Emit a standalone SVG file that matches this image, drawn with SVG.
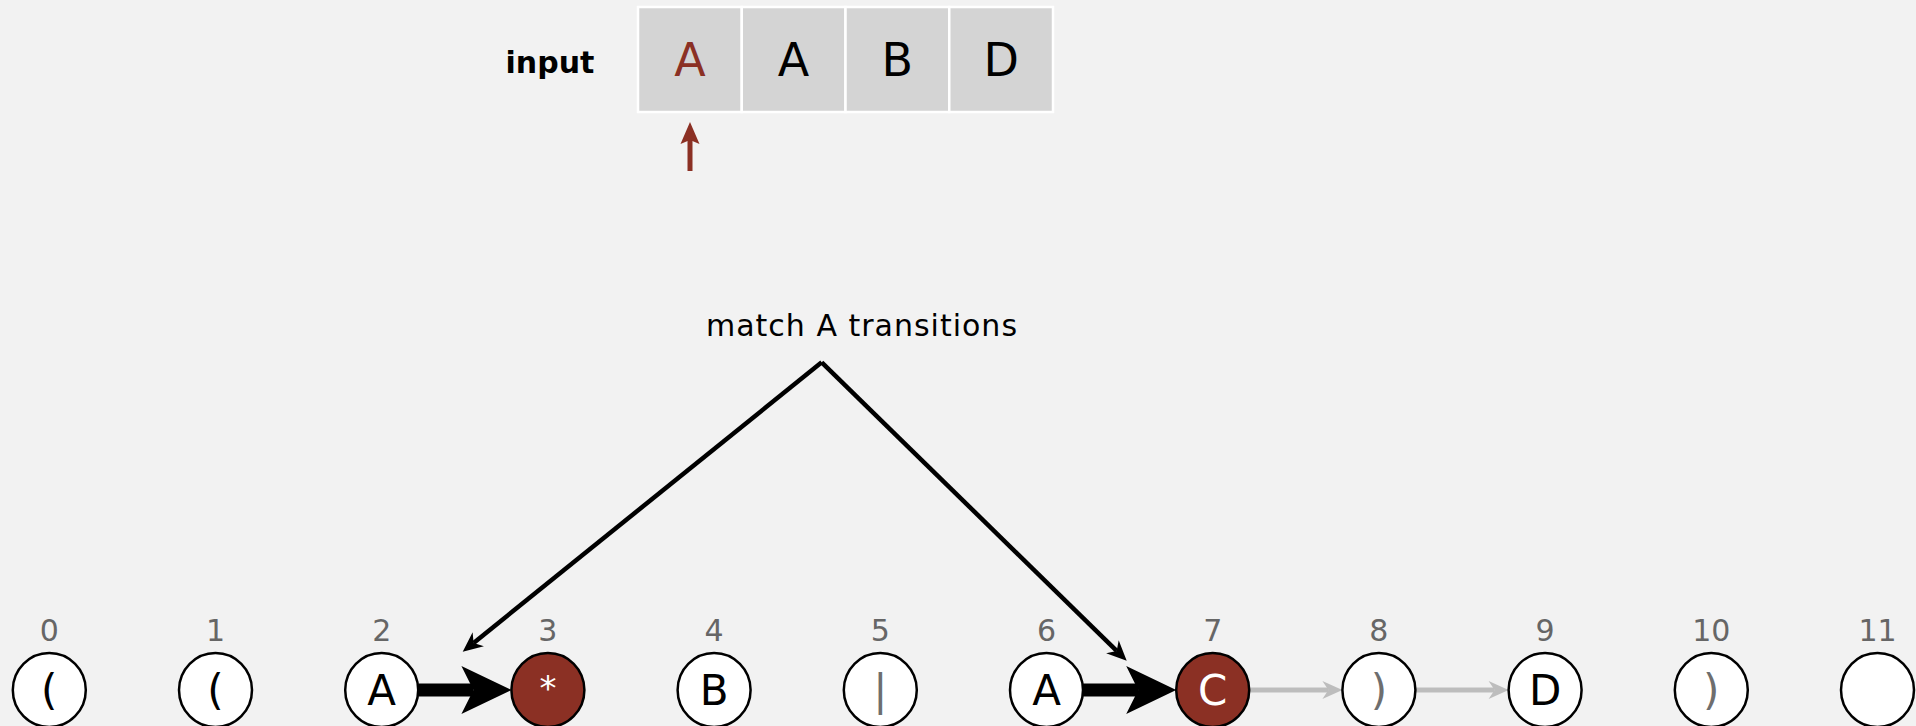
<svg xmlns="http://www.w3.org/2000/svg" width="1916" height="726" viewBox="0 0 1916 726">
  <style>
    .cell { fill: #d4d4d4; stroke: #ffffff; stroke-width: 2.5; }
    .ch { font-family: "DejaVu Sans", "Liberation Sans", sans-serif; font-size: 46px; text-anchor: middle; fill: #000; }
    .hot { fill: #8b3024; }
    .node { fill: #ffffff; stroke: #000; stroke-width: 2.5; }
    .node.on { fill: #8b3024; }
    .sym { font-family: "DejaVu Sans", "Liberation Sans", sans-serif; font-size: 42px; text-anchor: middle; fill: #000; }
    .sym.dim { fill: #6e6e6e; }
    .sym.inv { fill: #ffffff; }
    .idx { font-family: "DejaVu Sans", "Liberation Sans", sans-serif; font-size: 30px; text-anchor: middle; fill: #666666; }
    .note { font-family: "DejaVu Sans", "Liberation Sans", sans-serif; font-size: 30px; letter-spacing: 1px; text-anchor: middle; fill: #000; }
    .lbl { font-family: "DejaVu Sans", "Liberation Sans", sans-serif; font-size: 30px; font-weight: bold; text-anchor: middle; fill: #000; }
    .ptr { stroke: #000; stroke-width: 4.5; fill: none; }
    .match { stroke: #000; stroke-width: 13; fill: none; }
    .eps { stroke: #bdbdbd; stroke-width: 5; fill: none; }
  </style>
  <defs>
    <marker id="headThin" viewBox="-10 -10 30 20" markerWidth="30" markerHeight="20" refX="0" refY="0" markerUnits="userSpaceOnUse" orient="auto" overflow="visible">
      <path d="M14,0 L-6,-9 L0,0 L-6,9 Z" fill="#000"/>
    </marker>
    <marker id="headBig" viewBox="-15 -30 60 60" markerWidth="60" markerHeight="60" refX="0" refY="0" markerUnits="userSpaceOnUse" orient="auto" overflow="visible">
      <path d="M38,0 L-12,-24 L0,0 L-12,24 Z" fill="#000"/>
    </marker>
    <marker id="headGray" viewBox="-10 -10 30 20" markerWidth="30" markerHeight="20" refX="0" refY="0" markerUnits="userSpaceOnUse" orient="auto" overflow="visible">
      <path d="M14,0 L-6,-9 L0,0 L-6,9 Z" fill="#bdbdbd"/>
    </marker>
  </defs>

  <rect x="0" y="0" width="1916" height="726" fill="#f2f2f2"/>

  <!-- input text and read pointer -->
  <g id="input">
    <text class="lbl" x="550" y="73">input</text>
    <rect class="cell" x="638" y="7" width="103.75" height="105"/>
    <rect class="cell" x="741.75" y="7" width="103.75" height="105"/>
    <rect class="cell" x="845.5" y="7" width="103.75" height="105"/>
    <rect class="cell" x="949.25" y="7" width="103.75" height="105"/>
    <text class="ch hot" x="689.9" y="76">A</text>
    <text class="ch" x="793.6" y="76">A</text>
    <text class="ch" x="897.4" y="76">B</text>
    <text class="ch" x="1001.1" y="76">D</text>
  </g>
  <g id="pointer">
    <line x1="690" y1="171" x2="690" y2="139" stroke="#8b3024" stroke-width="5"/>
    <path d="M690,122 L699.5,144 L690,140 L680.5,144 Z" fill="#8b3024"/>
  </g>

  <!-- annotation -->
  <g id="note">
    <text class="note" x="862" y="336">match A transitions</text>
  </g>

  <!-- connectors -->
  <g id="connectors">
    <path class="ptr" d="M821.7,362.3 L473.6,642.9" marker-end="url(#headThin)"/>
    <path class="ptr" d="M821.7,362.3 L1116.7,650.9" marker-end="url(#headThin)"/>
    <path class="match" d="M418.2,690 L473.4,690" marker-end="url(#headBig)"/>
    <path class="match" d="M1083,690 L1138.2,690" marker-end="url(#headBig)"/>
    <path class="eps" d="M1249.2,690 L1328.4,690" marker-end="url(#headGray)"/>
    <path class="eps" d="M1415.4,690 L1494.6,690" marker-end="url(#headGray)"/>
  </g>

  <!-- NFA states -->
  <g id="n0"><text class="idx" x="49.3" y="641">0</text><ellipse class="node" cx="49.3" cy="690" rx="36.5" ry="37"/><text class="sym" x="49.3" y="705">(</text></g>
  <g id="n1"><text class="idx" x="215.5" y="641">1</text><ellipse class="node" cx="215.5" cy="690" rx="36.5" ry="37"/><text class="sym" x="215.5" y="705">(</text></g>
  <g id="n2"><text class="idx" x="381.7" y="641">2</text><ellipse class="node" cx="381.7" cy="690" rx="36.5" ry="37"/><text class="sym" x="381.7" y="705">A</text></g>
  <g id="n3"><text class="idx" x="547.9" y="641">3</text><ellipse class="node on" cx="547.9" cy="690" rx="36.5" ry="37"/><text class="sym inv" x="547.9" y="700" style="font-size:34px">*</text></g>
  <g id="n4"><text class="idx" x="714.1" y="641">4</text><ellipse class="node" cx="714.1" cy="690" rx="36.5" ry="37"/><text class="sym" x="714.1" y="705">B</text></g>
  <g id="n5"><text class="idx" x="880.3" y="641">5</text><ellipse class="node" cx="880.3" cy="690" rx="36.5" ry="37"/><text class="sym dim" x="880.3" y="705">|</text></g>
  <g id="n6"><text class="idx" x="1046.5" y="641">6</text><ellipse class="node" cx="1046.5" cy="690" rx="36.5" ry="37"/><text class="sym" x="1046.5" y="705">A</text></g>
  <g id="n7"><text class="idx" x="1212.7" y="641">7</text><ellipse class="node on" cx="1212.7" cy="690" rx="36.5" ry="37"/><text class="sym inv" x="1212.7" y="705">C</text></g>
  <g id="n8"><text class="idx" x="1378.9" y="641">8</text><ellipse class="node" cx="1378.9" cy="690" rx="36.5" ry="37"/><text class="sym dim" x="1378.9" y="705">)</text></g>
  <g id="n9"><text class="idx" x="1545.1" y="641">9</text><ellipse class="node" cx="1545.1" cy="690" rx="36.5" ry="37"/><text class="sym" x="1545.1" y="705">D</text></g>
  <g id="n10"><text class="idx" x="1711.3" y="641">10</text><ellipse class="node" cx="1711.3" cy="690" rx="36.5" ry="37"/><text class="sym dim" x="1711.3" y="705">)</text></g>
  <g id="n11"><text class="idx" x="1877.5" y="641">11</text><ellipse class="node" cx="1877.5" cy="690" rx="36.5" ry="37"/></g>
</svg>
